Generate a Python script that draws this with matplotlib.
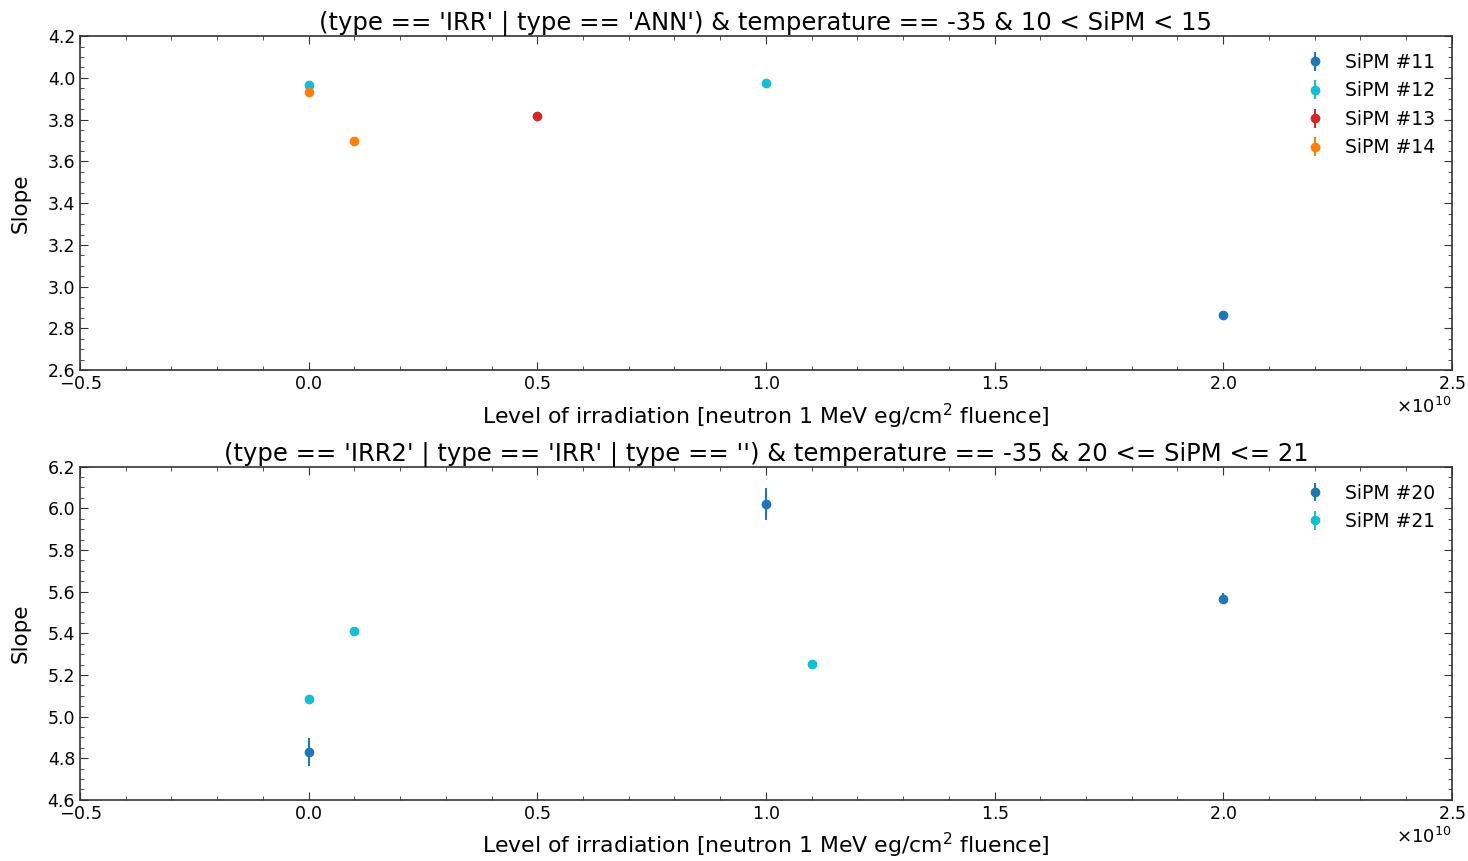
import matplotlib
matplotlib.use('Agg')
import matplotlib.pyplot as plt
import numpy as np

# top panel: SiPM 11-14
top_labels = ['SiPM #11', 'SiPM #12', 'SiPM #13', 'SiPM #14']
top_colors = ['#1f77b4', '#17becf', '#d62728', '#ff7f0e']
top_x = [[2.0e10], [0.0, 1.0e10], [0.5e10], [0.0, 0.1e10]]
top_y = [[2.864], [3.965, 3.975], [3.817], [3.932, 3.697]]
top_err = [[0.008], [0.008, 0.008], [0.008], [0.008, 0.008]]

# bottom panel: SiPM 20-21
bot_labels = ['SiPM #20', 'SiPM #21']
bot_colors = ['#1f77b4', '#17becf']
bot_x = [[0.0, 1.0e10, 2.0e10], [0.0, 0.1e10, 1.1e10]]
bot_y = [[4.83, 6.022, 5.566], [5.085, 5.412, 5.253]]
bot_err = [[0.065, 0.077, 0.025], [0.01, 0.01, 0.015]]

titles = ["(type == 'IRR' | type == 'ANN') & temperature == -35 & 10 < SiPM < 15",
          "(type == 'IRR2' | type == 'IRR' | type == '') & temperature == -35 & 20 <= SiPM <= 21"]
xlabel = 'Level of irradiation [neutron 1 MeV eg/cm$^2$ fluence]'

fig = plt.figure(figsize=(14.68, 8.61), dpi=100)
ax1 = fig.add_axes([0.0545, 0.570, 0.9345, 0.388])
ax2 = fig.add_axes([0.0545, 0.071, 0.9345, 0.387])

panels = [
    (ax1, top_labels, top_colors, top_x, top_y, top_err, (2.6, 4.2)),
    (ax2, bot_labels, bot_colors, bot_x, bot_y, bot_err, (4.6, 6.2)),
]

for i, (ax, labels, colors, xs, ys, errs, ylim) in enumerate(panels):
    for lab, c, x, y, e in zip(labels, colors, xs, ys, errs):
        ax.errorbar(x, y, yerr=e, fmt='o', ms=6, color=c, label=lab, elinewidth=1.5)
    ax.set_xlim(-0.5e10, 2.5e10)
    ax.set_ylim(*ylim)
    ax.set_yticks(np.arange(ylim[0], ylim[1] + 0.01, 0.2))
    ax.ticklabel_format(axis='x', style='sci', scilimits=(0, 0), useMathText=True)
    ax.minorticks_on()
    ax.tick_params(which='both', direction='in', top=True, right=True, labelsize=12.5, color='#333333')
    ax.tick_params(which='major', length=6)
    ax.tick_params(which='minor', length=3)
    for sp in ax.spines.values():
        sp.set_color('#333333')
        sp.set_linewidth(1.2)
    ax.set_title(titles[i], fontsize=17.5, pad=4)
    ax.set_xlabel(xlabel, fontsize=15.8, labelpad=6)
    ax.set_ylabel('Slope', fontsize=15.5, labelpad=12)
    ax.xaxis.get_offset_text().set_fontsize(13)
    ax.legend(frameon=False, fontsize=13.5, loc='upper right', handletextpad=0.6)

fig.savefig('out.png', dpi=100)
